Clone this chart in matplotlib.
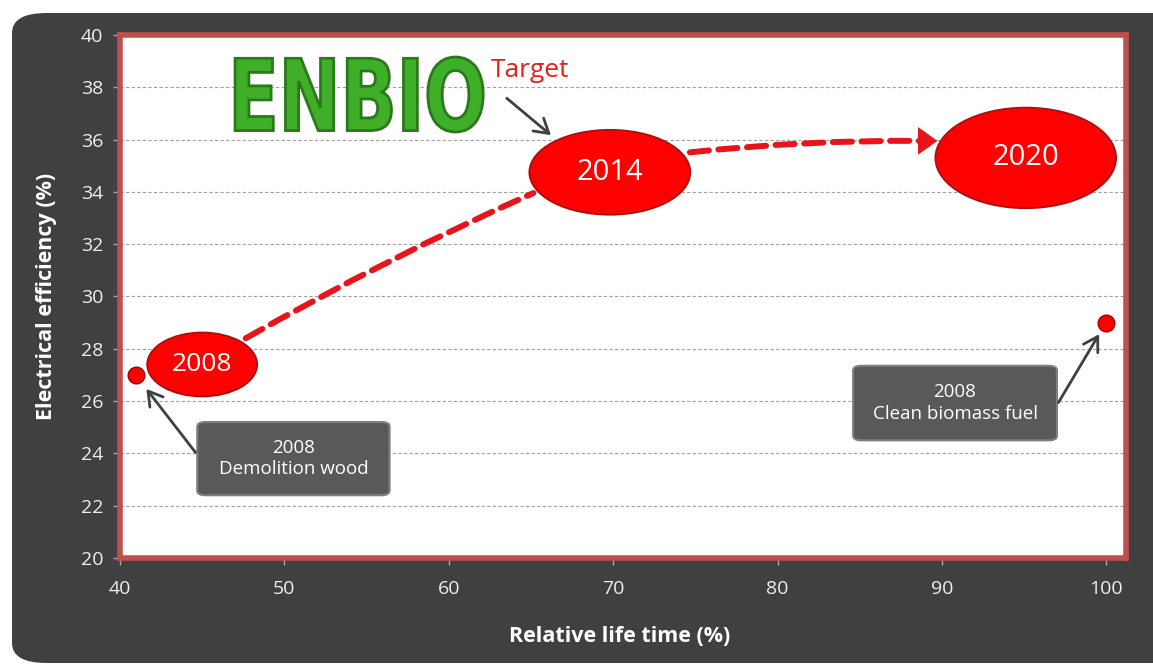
import matplotlib
matplotlib.use("Agg")
import matplotlib.pyplot as plt
from matplotlib.patches import Ellipse, FancyBboxPatch, FancyArrowPatch, PathPatch
from matplotlib.textpath import TextPath
from matplotlib.font_manager import FontProperties
from matplotlib.transforms import Affine2D

plt.rcParams['font.family'] = ['Open Sans', 'DejaVu Sans']

# measured points (relative life time %, electrical efficiency %)
dot_x = [41, 100]
dot_y = [27, 29]

years = ['2008', '2014', '2020']
year_x = [45.0, 69.8, 95.1]
year_y = [27.4, 34.75, 35.3]
year_w = [6.7, 9.8, 11.0]
year_h = [2.45, 3.25, 3.85]
year_fs = [19, 21, 21]

# dashed target path (start/end of each bend)
path1 = [(47.5, 28.35), (65.3, 34.0)]
path2 = [(74.5, 35.5), (88.9, 35.95)]
tip2 = (89.9, 35.95)

notes = ['2008\nDemolition wood', '2008\nClean biomass fuel']
note_box = [(44.7, 22.4, 11.7, 2.8), (84.6, 24.5, 12.4, 2.85)]
note_from = [(44.7, 23.95), (97.0, 25.85)]
note_to = [(41.5, 26.55), (99.65, 28.65)]

xticks = [40, 50, 60, 70, 80, 90, 100]
yticks = [20, 22, 24, 26, 28, 30, 32, 34, 36, 38, 40]

fig = plt.figure(figsize=(11.53, 6.67), dpi=100)
fig.patch.set_facecolor('white')

# dark rounded panel behind the chart
W, H = 1153.0, 667.0
panel = FancyBboxPatch((12 / W, 1 - 663 / H), 1.2, (663 - 13) / H,
                       boxstyle="round,pad=0,rounding_size=0.03",
                       transform=fig.transFigure, facecolor='#404040',
                       edgecolor='none', zorder=-10)
fig.patches.append(panel)

ax = fig.add_axes([120 / W, 1 - 558 / H, (1126 - 120) / W, (558 - 35) / H])
ax.set_zorder(1)
ax.set_facecolor('white')
ax.set_xlim(40, 101.2)
ax.set_ylim(20, 40)
ax.set_xticks(xticks)
ax.set_yticks(yticks)
for s in ax.spines.values():
    s.set_color('#c0504d')
    s.set_linewidth(4)
ax.tick_params(axis='both', colors='#a6a6a6', labelcolor='#eeeeee', labelsize=14,
               length=5, width=1)
ax.tick_params(axis='y', pad=7)
ax.tick_params(axis='x', pad=11)
ax.yaxis.grid(True, color='#a0a0a0', linestyle=(0, (3, 2)), linewidth=0.8)
ax.set_axisbelow(True)

fig.text(47 / W, 1 - 296 / H, 'Electrical efficiency (%)', rotation=90,
         ha='center', va='center', color='white', fontsize=15.5, fontweight='bold')
fig.text(620 / W, 1 - 636 / H, 'Relative life time (%)', ha='center', va='center',
         color='white', fontsize=15.5, fontweight='bold')

red = '#e8141b'
# dashed curves
c1 = FancyArrowPatch(path1[0], path1[1], arrowstyle='-', connectionstyle='arc3,rad=-0.025',
                     color=red, linewidth=4.3, linestyle=(0, (3.2, 1.6)), zorder=3)
ax.add_patch(c1)
c2 = FancyArrowPatch(path2[0], path2[1], arrowstyle='-', connectionstyle='arc3,rad=-0.03',
                     color=red, linewidth=4.3, linestyle=(0, (3.2, 1.6)), zorder=3)
ax.add_patch(c2)
head = FancyArrowPatch(path2[1], tip2, arrowstyle='-|>,head_length=0.7,head_width=0.5',
                       mutation_scale=20, color=red, linewidth=0, zorder=3)
ax.add_patch(head)

# year ellipses
for lab, x, y, w, h, fs in zip(years, year_x, year_y, year_w, year_h, year_fs):
    ax.add_patch(Ellipse((x, y), w, h, facecolor='#ff0000', edgecolor='#a50f0f',
                         linewidth=1.2, zorder=4))
    ax.text(x, y, lab, ha='center', va='center', color='white', fontsize=fs, zorder=5)

# measured dots
ax.plot(dot_x, dot_y, 'o', color='#ff0000', markeredgecolor='#a00000',
        markersize=12, clip_on=False, zorder=6)

# callout boxes
for txt, (bx, by, bw, bh), p0, p1 in zip(notes, note_box, note_from, note_to):
    ax.add_patch(FancyBboxPatch((bx, by), bw, bh, boxstyle='round,pad=0,rounding_size=0.5',
                                mutation_aspect=0.35, facecolor='#595959',
                                edgecolor='#7f7f7f', linewidth=1.5, zorder=5))
    ax.text(bx + bw / 2, by + bh / 2, txt, ha='center', va='center', color='white',
            fontsize=13.5, linespacing=1.25, zorder=6)
    ax.annotate('', xy=p1, xytext=p0,
                arrowprops=dict(arrowstyle='->,head_length=0.5,head_width=0.3',
                                color='#404040', lw=2, mutation_scale=20), zorder=6)

# Target label
ax.text(64.95, 38.65, 'Target', ha='center', va='center', color='#e0201b', fontsize=19,
        zorder=5)
ax.annotate('', xy=(66.35, 36.1), xytext=(63.4, 37.65),
            arrowprops=dict(arrowstyle='->,head_length=0.5,head_width=0.3',
                            color='#404040', lw=2, mutation_scale=20), zorder=6)

# ENBIO logo, stretched into its box
fp = FontProperties(family='DejaVu Sans', weight='bold')
tp = TextPath((0, 0), 'ENBIO', size=10, prop=fp)
ext = tp.get_extents()
lx0, lx1 = 40 + (235 - 120) / 16.43, 40 + (483 - 120) / 16.43
ly0, ly1 = 40 - (132 - 35) / 26.15, 40 - (57 - 35) / 26.15
tr = Affine2D().translate(-ext.x0, -ext.y0).scale((lx1 - lx0) / ext.width,
                                                   (ly1 - ly0) / ext.height).translate(lx0, ly0)
logo = PathPatch(tr.transform_path(tp), facecolor='#3fae28', edgecolor='#2a7a1c',
                 linewidth=2, zorder=4)
ax.add_patch(logo)

fig.savefig('out.png', dpi=100)
